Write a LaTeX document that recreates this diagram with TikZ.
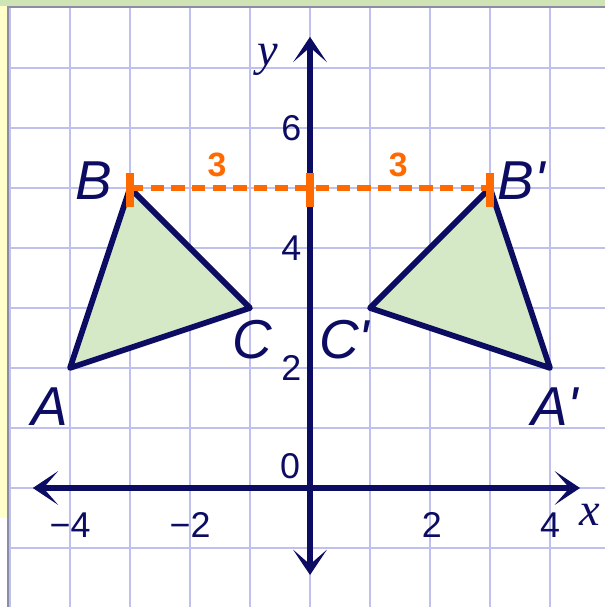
\documentclass[tikz,border=0pt]{standalone}
\usepackage{fontspec}
\setmainfont{Liberation Sans}
\newfontfamily\serifit{Liberation Serif}
\usetikzlibrary{arrows.meta}
\definecolor{navy}{HTML}{0C0C62}
\definecolor{gridlav}{HTML}{C0C0EE}
\definecolor{leafgreen}{HTML}{D6E9C6}
\definecolor{topband}{HTML}{CFE4B5}
\definecolor{paleyellow}{HTML}{FFFFCC}
\definecolor{edgegray}{HTML}{8C8CA2}
\definecolor{reflorange}{HTML}{FF6A00}

\tikzset{
  vertexlabel/.style={text=navy, font=\fontsize{26}{28}\selectfont\itshape, inner sep=0pt},
  ticklabel/.style={text=navy, font=\fontsize{17}{19}\selectfont, inner sep=0pt},
  axislabel/.style={text=navy, font=\fontsize{22}{24}\selectfont\serifit\itshape, inner sep=0pt},
  distlabel/.style={text=reflorange, font=\fontsize{16}{18}\selectfont\bfseries, inner sep=0pt},
  triangle/.style={draw=navy, fill=leafgreen, line width=2.7pt, line join=round},
  axisline/.style={navy, line width=2.8pt,
    {Stealth[length=12pt, width=16pt, inset=7pt]}-{Stealth[length=12pt, width=16pt, inset=7pt]}},
  distmark/.style={reflorange, line width=3.5pt},
}

\begin{document}
\begin{tikzpicture}

% Page and frame
\useasboundingbox (-5.1667,-1.9833) rectangle (4.9167,8.1333);
\fill[white] (-5.1667,-1.9833) rectangle (4.9167,8.1333);
\fill[paleyellow] (-5.1667,-0.5) rectangle (-5.05,8.1333);
\fill[topband] (-5.1667,8.03) rectangle (4.9167,8.1333);

% Grid
\foreach \gx in {-5,...,4}
  \draw[gridlav, line width=1pt] (\gx,-1.9833) -- (\gx,8.02);
\foreach \gy in {-1,...,7}
  \draw[gridlav, line width=1pt] (-5.04,\gy) -- (4.9167,\gy);
\draw[edgegray, line width=1pt] (-5.04,-1.9833) -- (-5.04,8.02) -- (4.9167,8.02);

% Vertices
\coordinate (A) at (-4,2);
\coordinate (B) at (-3,5);
\coordinate (C) at (-1,3);
\coordinate (A') at (4,2);
\coordinate (B') at (3,5);
\coordinate (C') at (1,3);

% Triangles
\draw[triangle] (A) -- (B) -- (C) -- cycle;
\draw[triangle] (A') -- (B') -- (C') -- cycle;

% Axes
\coordinate (xmin) at (-4.62,0);
\coordinate (xmax) at (4.5,0);
\coordinate (ymin) at (0,-1.45);
\coordinate (ymax) at (0,7.52);
\draw[axisline] (xmin) -- (xmax);
\draw[axisline] (ymin) -- (ymax);
\node[axislabel] (xlab) at (4.67,-0.45) {x};
\node[axislabel] (ylab) at (-0.7,7.14) {y};

% Tick numbers
\node[ticklabel] (n0) at (-0.33,0.37) {0};
\node[ticklabel] (n2) at (-0.31,2) {2};
\node[ticklabel] (n4) at (-0.31,4) {4};
\node[ticklabel] (n6) at (-0.31,6) {6};
\node[ticklabel] (nm4) at (-4,-0.62) {\symbol{"2212}4};
\node[ticklabel] (nm2) at (-2,-0.62) {\symbol{"2212}2};
\node[ticklabel] (np2) at (2.03,-0.62) {2};
\node[ticklabel] (np4) at (4,-0.62) {4};

% Distance to the y-axis
\coordinate (M) at (0,5);
\draw[distmark, line width=2.8pt, dash pattern=on 6.3pt off 3.5pt] (B) -- (B');
\foreach \p in {B,M,B'}
  \draw[distmark] ([yshift=-0.32cm]\p) -- ([yshift=0.25cm]\p);
\node[distlabel] (d1) at (-1.55,5.38) {3};
\node[distlabel] (d2) at (1.47,5.38) {3};

% Vertex labels
\node[vertexlabel] (labA) at (-4.33,1.35) {A};
\node[vertexlabel] (labB) at (-3.6,5.13) {B};
\node[vertexlabel] (labC) at (-0.97,2.48) {C};
\node[vertexlabel] (labA') at (4.08,1.35) {A\textquotesingle};
\node[vertexlabel] (labB') at (3.52,5.13) {B\textquotesingle};
\node[vertexlabel] (labC') at (0.57,2.48) {C\textquotesingle};

\end{tikzpicture}
\end{document}
